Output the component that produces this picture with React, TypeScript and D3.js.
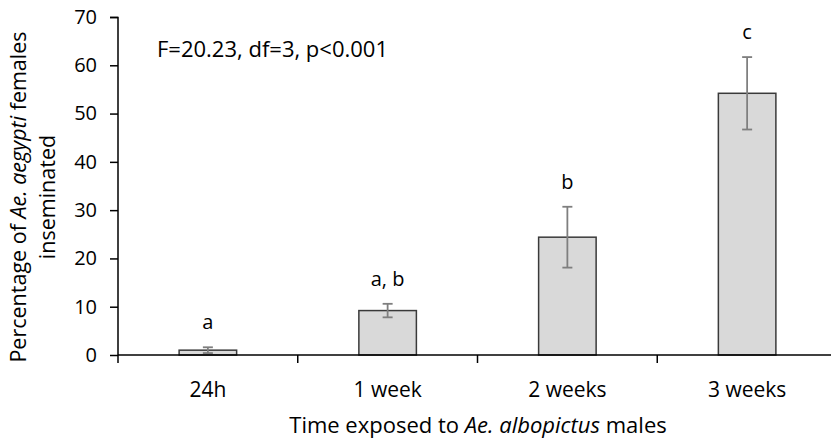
import React, { useRef, useEffect } from 'react';
import * as d3 from 'd3';

const categories = ['24h', '1 week', '2 weeks', '3 weeks'];
const means = [1.0, 9.2, 24.4, 54.2];
const errors = [0.6, 1.4, 6.3, 7.5];
const letters = ['a', 'a, b', 'b', 'c'];
const yTicks = [0, 10, 20, 30, 40, 50, 60, 70];

const font = '"Open Sans", sans-serif';

function App() {
	const svgRef = useRef<SVGSVGElement>(null);
	const width = 831;
	const height = 440;

	useEffect(() => {
		const svg = d3.select(svgRef.current);
		svg.selectAll('*').remove();

		const x = d3.scaleBand().domain(categories).range([118, 837]).paddingInner(0.68).paddingOuter(0.34);
		const y = d3.scaleLinear().domain([0, 70]).range([355, 17]);

		// y axis
		const yAxis = svg
			.append('g')
			.attr('transform', 'translate(118,0)')
			.call(d3.axisLeft(y).tickValues(yTicks).tickSize(8).tickPadding(13));
		yAxis.select('.domain').attr('stroke', '#000').attr('stroke-width', 1.5).attr('d', 'M-8,17.5H0V355');
		yAxis.selectAll('line').attr('stroke', '#000').attr('stroke-width', 1.5);
		yAxis.selectAll('text').attr('font-size', 20).attr('font-family', font).attr('fill', '#000');

		// bars
		const bx = (c: string) => x(c) as number;
		svg
			.selectAll('.bar')
			.data(means)
			.join('rect')
			.attr('class', 'bar')
			.attr('x', (d, i) => bx(categories[i]))
			.attr('y', (d) => y(d))
			.attr('width', x.bandwidth())
			.attr('height', (d) => y(0) - y(d))
			.attr('fill', '#d9d9d9')
			.attr('stroke', '#3a3a3a')
			.attr('stroke-width', 1.5);

		// error bars
		const cx = (i: number) => bx(categories[i]) + x.bandwidth() / 2;
		const eb = svg.append('g').attr('stroke', '#7f7f7f').attr('stroke-width', 1.8);
		means.forEach((m, i) => {
			const top = y(m + errors[i]);
			const bot = y(m - errors[i]);
			eb.append('line').attr('x1', cx(i)).attr('x2', cx(i)).attr('y1', top).attr('y2', bot);
			eb.append('line').attr('x1', cx(i) - 5).attr('x2', cx(i) + 5).attr('y1', top).attr('y2', top);
			eb.append('line').attr('x1', cx(i) - 5).attr('x2', cx(i) + 5).attr('y1', bot).attr('y2', bot);
		});

		// significance letters
		svg
			.selectAll('.letter')
			.data(letters)
			.join('text')
			.attr('class', 'letter')
			.attr('x', (d, i) => cx(i))
			.attr('y', (d, i) => y(means[i] + errors[i]) - 18)
			.attr('text-anchor', 'middle')
			.attr('font-size', 20)
			.attr('font-family', font)
			.text((d) => d);

		// x axis
		const edges = d3.range(categories.length).map((i) => 118 + (i * (837 - 118)) / categories.length);
		const xg = svg.append('g');
		xg.append('line').attr('x1', 118).attr('x2', 837).attr('y1', 355).attr('y2', 355).attr('stroke', '#000').attr('stroke-width', 1.5);
		xg.selectAll('.xt')
			.data(edges)
			.join('line')
			.attr('class', 'xt')
			.attr('x1', (d) => d)
			.attr('x2', (d) => d)
			.attr('y1', 355)
			.attr('y2', 363)
			.attr('stroke', '#000')
			.attr('stroke-width', 1.5);
		xg.selectAll('.xl')
			.data(categories)
			.join('text')
			.attr('class', 'xl')
			.attr('x', (d) => bx(d) + x.bandwidth() / 2)
			.attr('y', 397)
			.attr('text-anchor', 'middle')
			.attr('font-size', 21)
			.attr('font-family', font)
			.text((d) => d);

		// x title
		const xt = svg
			.append('text')
			.attr('x', 478)
			.attr('y', 433)
			.attr('text-anchor', 'middle')
			.attr('font-size', 22)
			.attr('font-family', font);
		xt.append('tspan').text('Time exposed to ');
		xt.append('tspan').attr('font-style', 'italic').text('Ae. albopictus');
		xt.append('tspan').text(' males');

		// y title
		const yt = svg
			.append('text')
			.attr('transform', 'translate(0,197) rotate(-90)')
			.attr('text-anchor', 'middle')
			.attr('font-size', 21.5)
			.attr('font-family', font);
		yt.append('tspan').attr('x', 0).attr('y', 26).text('Percentage of ');
		yt.append('tspan').attr('font-style', 'italic').text('Ae. aegypti');
		yt.append('tspan').text(' females');
		yt.append('tspan').attr('x', 0).attr('y', 55).text('inseminated');

		// statistics note
		svg
			.append('text')
			.attr('x', 157)
			.attr('y', 57)
			.attr('font-size', 22)
			.attr('font-family', font)
			.text('F=20.23, df=3, p<0.001');
	}, []);

	return <svg ref={svgRef} width={width} height={height} style={{ display: 'block', position: 'absolute', left: 0, top: 0, background: '#fff' }} />;
}

export default App;
